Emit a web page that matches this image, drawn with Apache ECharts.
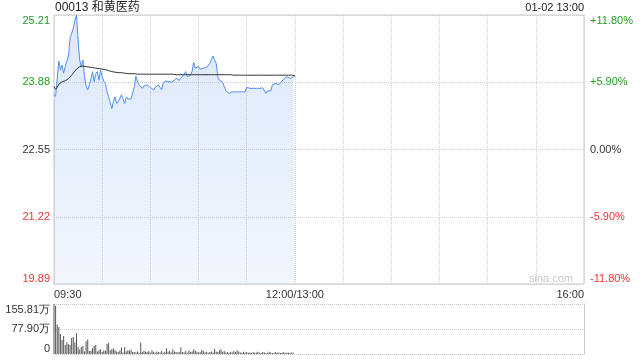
<!DOCTYPE html>
<html>
<head>
<meta charset="utf-8">
<script src="https://cdn.jsdelivr.net/npm/echarts@6/dist/echarts.min.js"></script>
<style>
html,body{margin:0;padding:0;background:#fff;}
#chart{width:640px;height:360px;}
</style>
</head>
<body>
<div id="chart"></div>
<script>
const title = '00013 和黄医药';
const stamp = '01-02 13:00';
const prevClose = 22.55;
const timeLabelMinutes = [0, 150, 330];
const timeLabels = ['09:30', '12:00/13:00', '16:00'];
const volTickLabels = ['0', '77.90万', '155.81万'];
const volMax = 155.81;

// per-minute price, 09:30 .. 12:00
const price = [
23.64,23.60,23.58,24.30,24.12,24.22,24.06,24.19,24.30,24.40,
24.75,24.85,24.95,25.10,25.21,24.72,24.32,24.19,24.32,23.99,
23.80,23.73,23.83,23.95,24.09,23.89,24.05,24.09,23.92,24.12,
23.99,23.90,23.86,23.70,23.59,23.48,23.36,23.50,23.59,23.46,
23.50,23.56,23.63,23.55,23.46,23.59,23.55,23.53,23.55,23.56,
23.79,24.00,23.90,23.83,23.80,23.76,23.81,23.80,23.83,23.80,
23.78,23.76,23.73,23.78,23.80,23.83,23.78,23.73,23.86,23.90,
23.92,23.90,23.89,23.88,23.89,23.92,23.96,23.94,23.92,23.96,
23.99,24.04,24.09,23.99,24.00,24.02,24.10,24.27,24.16,24.18,
24.19,24.14,24.12,24.16,24.19,24.17,24.16,24.25,24.33,24.40,
24.32,24.25,23.99,23.92,23.89,23.88,23.86,23.71,23.68,23.66,
23.68,23.69,23.69,23.69,23.69,23.69,23.69,23.69,23.69,23.69,
23.78,23.77,23.76,23.76,23.76,23.76,23.76,23.76,23.76,23.78,
23.77,23.76,23.66,23.71,23.71,23.71,23.83,23.85,23.86,23.84,
23.83,23.87,23.89,23.94,23.96,23.99,23.97,23.96,23.97,23.98,
24.00
];

// per-minute average price
const avgPrice = [
23.80,23.74,23.78,23.84,23.87,23.89,23.90,23.91,23.93,23.95,
23.98,24.02,24.06,24.10,24.14,24.17,24.19,24.20,24.20,24.20,
24.19,24.18,24.18,24.17,24.17,24.16,24.16,24.16,24.15,24.15,
24.14,24.14,24.13,24.12,24.11,24.10,24.09,24.09,24.08,24.08,
24.07,24.07,24.07,24.06,24.06,24.06,24.05,24.05,24.05,24.05,
24.05,24.05,24.04,24.04,24.04,24.04,24.04,24.04,24.04,24.04,
24.04,24.04,24.04,24.04,24.04,24.04,24.04,24.04,24.04,24.04,
24.04,24.04,24.04,24.04,24.04,24.04,24.03,24.03,24.03,24.03,
24.03,24.03,24.03,24.03,24.03,24.03,24.03,24.03,24.03,24.03,
24.03,24.03,24.03,24.03,24.03,24.03,24.03,24.03,24.03,24.03,
24.03,24.03,24.03,24.03,24.03,24.03,24.03,24.03,24.03,24.03,
24.03,24.02,24.02,24.02,24.02,24.02,24.02,24.02,24.02,24.02,
24.02,24.02,24.02,24.02,24.02,24.02,24.02,24.02,24.02,24.02,
24.02,24.02,24.02,24.02,24.02,24.02,24.02,24.02,24.02,24.02,
24.02,24.02,24.02,24.02,24.02,24.02,24.02,24.02,24.02,24.02,
24.01
];

// per-minute volume (万)
const volume = [
155.81,150,92,84,62,44,56,28,37,30,
28,50,53,37,65,22,14,22,25,8,
40,45,9,10,19,25,28,8,12,15,
6,12,10,31,34,12,15,18,12,8,
6,10,20,5,22,8,12,10,14,6,
6,5,8,4,35,6,10,8,6,9,
5,12,7,4,8,6,5,9,4,6,
18,7,10,5,15,8,6,5,7,21,
6,5,9,4,12,6,8,15,10,7,
5,6,13,9,5,7,4,6,8,5,
16,8,6,12,15,7,9,5,6,4,
7,5,9,6,12,8,5,4,7,5,
6,4,5,3,6,4,5,7,4,3,
6,5,3,4,7,5,3,4,6,4,
5,3,4,6,3,5,4,3,5,4
];

const GREEN = '#1ea21e';
const RED = '#f03434';
const pct = p => (p / prevClose - 1) * 100;
const signColor = v => v > 1e-9 ? GREEN : (v < -1e-9 ? RED : '#333');
const FONT = 'Liberation Sans, Arial, sans-serif';

const chart = echarts.init(document.getElementById('chart'), null, {renderer: 'canvas'});
chart.setOption({
  animation: false,
  textStyle: {fontFamily: FONT},
  grid: [
    {left: 54, right: 56, top: 15, height: 269, show: true, borderColor: '#c8c8c8', borderWidth: 1, backgroundColor: 'transparent'},
    {left: 54, right: 56, top: 304, height: 50}
  ],
  xAxis: [
    {
      type: 'value', gridIndex: 0, min: 0, max: 330, interval: 30,
      axisLine: {show: false}, axisTick: {show: false},
      splitLine: {show: true, lineStyle: {color: '#cfcfcf', type: 'dotted', width: 1}},
      axisLabel: {
        show: true, margin: 5, fontSize: 11, color: '#333', fontFamily: FONT,
        showMinLabel: true, showMaxLabel: true,
        alignMinLabel: 'left', alignMaxLabel: 'right',
        formatter: v => { const k = timeLabelMinutes.indexOf(Math.round(v)); return k >= 0 ? timeLabels[k] : ''; }
      }
    },
    {
      type: 'value', gridIndex: 1, min: 0, max: 330,
      axisLine: {show: false}, axisTick: {show: false}, axisLabel: {show: false}, splitLine: {show: false}
    }
  ],
  yAxis: [
    {
      type: 'value', gridIndex: 0, position: 'left', min: -11.8, max: 11.8, interval: 5.9,
      axisLine: {show: false}, axisTick: {show: false},
      splitLine: {show: true, lineStyle: {color: '#cfcfcf', type: 'dotted', width: 1}},
      axisLabel: {
        margin: 4, fontSize: 11, fontFamily: FONT,
        verticalAlignMinLabel: 'bottom', verticalAlignMaxLabel: 'top',
        color: v => signColor(v),
        formatter: v => (prevClose * (1 + v / 100)).toFixed(2)
      }
    },
    {
      type: 'value', gridIndex: 0, position: 'right', min: -11.8, max: 11.8, interval: 5.9,
      axisLine: {show: false}, axisTick: {show: false}, splitLine: {show: false},
      axisLabel: {
        margin: 6, fontSize: 11, fontFamily: FONT,
        verticalAlignMinLabel: 'bottom', verticalAlignMaxLabel: 'top',
        color: v => signColor(v),
        formatter: v => Math.abs(v) < 1e-9 ? '0.00%' : (v > 0 ? '+' : '') + v.toFixed(2) + '%'
      }
    },
    {
      type: 'value', gridIndex: 1, position: 'left', min: 0, max: volMax, interval: volMax / 2,
      axisLine: {show: false}, axisTick: {show: false},
      splitLine: {show: true, lineStyle: {color: '#c4c4c4', type: 'dotted', width: 1}},
      axisLabel: {
        margin: 4, fontSize: 11, color: '#333', fontFamily: FONT,
        verticalAlignMinLabel: 'bottom', verticalAlignMaxLabel: 'top',
        formatter: (v, i) => volTickLabels[i]
      }
    },
    {
      type: 'value', gridIndex: 1, position: 'right', min: 0, max: volMax,
      axisLine: {show: true, lineStyle: {color: '#c8c8c8', width: 1}},
      axisTick: {show: false}, axisLabel: {show: false}, splitLine: {show: false}
    }
  ],
  graphic: [
    {type: 'text', left: 55, top: 2, style: {text: title, fontSize: 12, fill: '#222', fontFamily: 'Liberation Sans, Noto Sans CJK SC, sans-serif'}},
    {type: 'text', right: 56, top: 2, style: {text: stamp, fontSize: 11, fill: '#222', fontFamily: FONT}},
    {type: 'text', right: 67, top: 273, style: {text: 'sina.com', fontSize: 11, fill: '#c8c8c8', fontFamily: FONT}}
  ],
  series: [
    {
      type: 'line', xAxisIndex: 0, yAxisIndex: 0, showSymbol: false, symbol: 'none',
      data: price.map((p, i) => [i, pct(p)]),
      lineStyle: {color: '#4f8ff2', width: 1},
      areaStyle: {
        origin: 'start',
        color: new echarts.graphic.LinearGradient(0, 0, 0, 1, [
          {offset: 0, color: 'rgba(110,160,235,0.35)'},
          {offset: 1, color: 'rgba(110,160,235,0.12)'}
        ])
      },
      z: 3
    },
    {
      type: 'line', xAxisIndex: 0, yAxisIndex: 0, showSymbol: false, symbol: 'none',
      data: avgPrice.map((p, i) => [i, pct(p)]),
      lineStyle: {color: '#333', width: 1},
      z: 4
    },
    {
      type: 'bar', xAxisIndex: 1, yAxisIndex: 2, barWidth: 1,
      data: volume.map((v, i) => [i, v]),
      itemStyle: {color: '#555'}
    }
  ]
});
</script>
</body>
</html>
